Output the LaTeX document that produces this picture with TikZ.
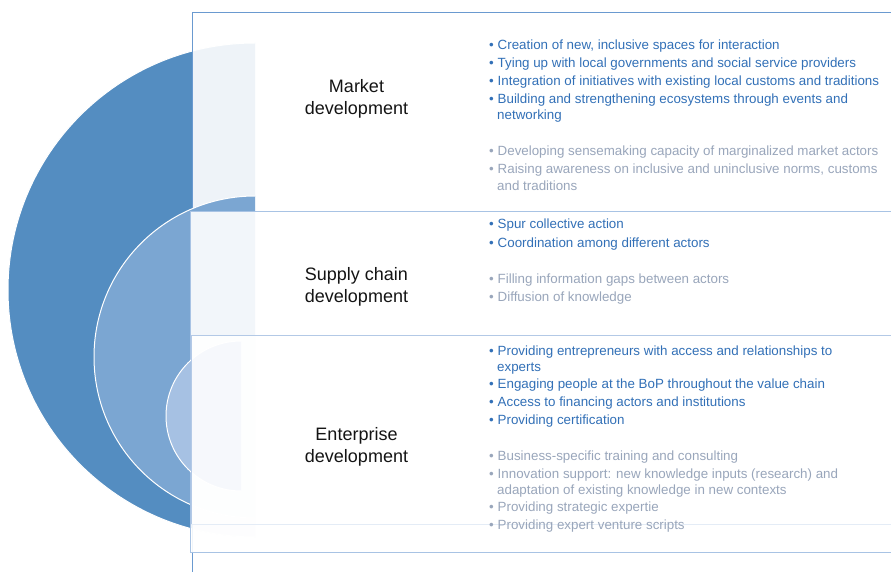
\documentclass[tikz,border=0pt]{standalone}
\usepackage{fontspec}
\setmainfont{Liberation Sans}
\definecolor{cA}{HTML}{548DC1}
\definecolor{cB}{HTML}{7BA6D2}
\definecolor{cC}{HTML}{A6C1E3}
\definecolor{rA}{HTML}{6A9AD0}
\definecolor{rB}{HTML}{A8C3E4}
\definecolor{rC}{HTML}{B3C9E6}
\definecolor{rD}{HTML}{E4ECF6}
\definecolor{tblue}{HTML}{3270B7}
\definecolor{tgray}{HTML}{99A6BB}
\definecolor{ttitle}{HTML}{141414}
\newcommand\bul{\llap{\textbullet\hspace{4pt}}}
\begin{document}
\begin{tikzpicture}[x=1pt,y=-1pt,
  bt/.style={anchor=base west, inner sep=0pt, text=tblue, font=\fontsize{13.35}{16}\selectfont},
  gt/.style={bt, text=tgray},
  ttl/.style={anchor=base, inner sep=0pt, text=ttitle, font=\fontsize{18}{22}\selectfont},
  panel/.style={fill=white, fill opacity=0.9, line width=0.8pt},
  ring/.style={draw=white, line width=1pt}]
\useasboundingbox (0,0) rectangle (891,572);
\clip (0,0) rectangle (891,572);
% outer half disk
\begin{scope}
  \clip (0,0) rectangle (255,572);
  \filldraw[ring, fill=cA] (255,290) circle (247pt);
\end{scope}
\path[panel, draw=rA] (192,12) rectangle (896,600);
% middle half disk
\begin{scope}
  \clip (0,0) rectangle (255,572);
  \filldraw[ring, fill=cB] (255,357) circle (161pt);
\end{scope}
\path[panel, draw=rB] (190,211) rectangle (896,552);
% inner half disk
\begin{scope}
  \clip (0,0) rectangle (241,572);
  \filldraw[ring, fill=cC] (241,416) circle (75pt);
\end{scope}
\path[panel] (191,335) rectangle (896,524);
\draw[rD, line width=0.8pt] (191,524) -- (896,524);
\draw[rC, line width=0.8pt] (191,524) -- (191,335) -- (896,335);

% titles
\node[ttl] (t1a) at (356.5,93) {Market};
\node[ttl] (t1b) at (356.5,115) {development};
\node[ttl] (t2a) at (356.5,280) {Supply chain};
\node[ttl] (t2b) at (356.5,302) {development};
\node[ttl] (t3a) at (356.5,440) {Enterprise};
\node[ttl] (t3b) at (356.5,462) {development};

% market development
\node[bt] (m1) at (497.5,50) {\bul Creation of new, inclusive spaces for interaction};
\node[bt] (m2) at (497.5,68) {\bul Tying up with local governments and social service providers};
\node[bt] (m3) at (497.5,86) {\bul Integration of initiatives with existing local customs and traditions};
\node[bt] (m4) at (497.5,104) {\bul Building and strengthening ecosystems through events and};
\node[bt] (m5) at (497,120) {networking};
\node[gt] (m6) at (497.5,156) {\bul Developing sensemaking capacity of marginalized market actors};
\node[gt] (m7) at (497.5,174) {\bul Raising awareness on inclusive and uninclusive norms, customs};
\node[gt] (m8) at (497,190) {and traditions};

% supply chain development
\node[bt] (s1) at (497.5,229) {\bul Spur collective action};
\node[bt] (s2) at (497.5,247) {\bul Coordination among different actors};
\node[gt] (s3) at (497.5,283) {\bul Filling information gaps between actors};
\node[gt] (s4) at (497.5,301) {\bul Diffusion of knowledge};

% enterprise development
\node[bt] (e1) at (497.5,355) {\bul Providing entrepreneurs with access and relationships to};
\node[bt] (e2) at (497,371) {experts};
\node[bt] (e3) at (497.5,388) {\bul Engaging people at the BoP throughout the value chain};
\node[bt] (e4) at (497.5,406) {\bul Access to financing actors and institutions};
\node[bt] (e5) at (497.5,424) {\bul Providing certification};
\node[gt] (e6) at (497.5,460) {\bul Business-specific training and consulting};
\node[gt] (e7) at (497.5,478) {\bul Innovation support: new knowledge inputs (research) and};
\node[gt] (e8) at (497,494) {adaptation of existing knowledge in new contexts};
\node[gt] (e9) at (497.5,511) {\bul Providing strategic expertie};
\node[gt] (e10) at (497.5,529) {\bul Providing expert venture scripts};
\end{tikzpicture}
\end{document}
